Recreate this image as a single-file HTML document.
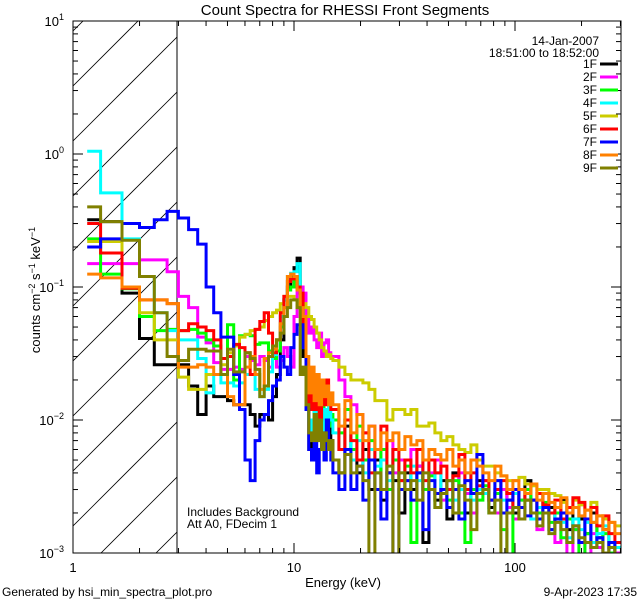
<!DOCTYPE html>
<html><head><meta charset="utf-8"><style>
html,body{margin:0;padding:0;background:#fff;overflow:hidden;}
svg{display:block;}
svg text{font-family:"Liberation Sans",sans-serif;fill:#000;}
</style></head><body>
<svg id="chart" width="640" height="600" viewBox="0 0 640 600" xmlns="http://www.w3.org/2000/svg">
<defs><clipPath id="plotclip"><rect x="73" y="21" width="548" height="532"/></clipPath>
<clipPath id="hatchclip"><rect x="73" y="21" width="104" height="532"/></clipPath></defs>
<rect width="640" height="600" fill="#fff"/>
<text x="345" y="15" font-size="15" text-anchor="middle">Count Spectra for RHESSI Front Segments</text>
<g id="hatch" clip-path="url(#hatchclip)"></g>
<line x1="177" y1="21" x2="177" y2="553" stroke="#000" stroke-width="1"/>
<g id="series" clip-path="url(#plotclip)"></g>
<rect x="73" y="21" width="548" height="532" fill="none" stroke="#000" stroke-width="1"/>
<g id="axes"></g>
<text x="343" y="587" font-size="13" text-anchor="middle">Energy (keV)</text>
<text transform="translate(40,290) rotate(-90)" font-size="13" text-anchor="middle">counts cm<tspan baseline-shift="super" font-size="9">−2</tspan> s<tspan baseline-shift="super" font-size="9">−1</tspan> keV<tspan baseline-shift="super" font-size="9">−1</tspan></text>
<text x="187" y="516" font-size="12">Includes Background</text>
<text x="187" y="528" font-size="12">Att A0, FDecim 1</text>
<text x="599" y="45" font-size="12" text-anchor="end">14-Jan-2007</text>
<text x="599" y="57" font-size="12" text-anchor="end">18:51:00 to 18:52:00</text>
<g id="legend"></g>
<text x="2" y="596" font-size="12">Generated by hsi_min_spectra_plot.pro</text>
<text x="637" y="596" font-size="12" text-anchor="end">9-Apr-2023 17:35</text>
</svg>
<script>
const seriesNames = ["1F","2F","3F","4F","5F","6F","7F","8F","9F"];
const seriesColors = ["#000000","#ff00ff","#00ff00","#00ffff","#cccc00","#ff0000","#0000ff","#ff8000","#808000"];
const s1F = [0.32,0.31,0.09,0.041,0.026,0.026,0.026,0.018,0.011,0.018,0.015,0.015,0.014,0.013,0.013,0.013,0.011,0.009,0.011,0.011,0.010,0.015,0.022,0.04,0.08,0.1,0.12,0.14,0.165,0.09,
 0.03,0.012,0.006,0.008,0.012,0.009,0.014,0.008,0.011,0.006,0.01,0.007,
 0.005,0.004,0.009,0.006,0.004,0.006,0.003,0.005,0.0025,0.004,0.0035,0.002,0.004,0.003,0.0045,0.0012,0.003,0.0025,0.0035,0.0018,0.004,0.003,0.002,0.0028,0.0035,0.003,0.0022,0.0028,0.003,0.0025,0.002,0.003,0.0035,0.0025,0.002,0.0028,0.0022,0.0018,0.0025,0.0015,0.0022,0.0018,0.0014,0.002,0.0013,0.0015,0.0011,0.0009];
const s2F = [0.15,0.15,0.15,0.16,0.16,0.13,0.085,0.07,0.042,0.038,0.027,0.024,0.024,0.025,0.024,0.03,0.028,0.026,0.03,0.028,0.025,0.03,0.025,0.028,0.035,0.03,0.025,0.06,0.1,0.1,
 0.09,0.06,0.045,0.05,0.04,0.035,0.045,0.03,0.038,0.04,0.032,0.03,
 0.03,0.02,0.015,0.013,0.011,0.008,0.009,0.006,0.005,0.007,0.004,0.005,0.0035,0.006,0.0045,0.003,0.004,0.005,0.0025,0.0035,0.003,0.004,0.0028,0.002,0.003,0.0035,0.0025,0.002,0.003,0.0022,0.0018,0.0025,0.003,0.002,0.0015,0.0022,0.002,0.0012,0.0018,0.0009,0.0015,0.0012,0.0009,0.0014,0.0011,0.0008,0.0012,0.001];
const s3F = [0.23,0.125,0.097,0.06,0.047,0.048,0.047,0.048,0.045,0.04,0.036,0.029,0.052,0.02,0.043,0.044,0.043,0.037,0.038,0.038,0.033,0.029,0.033,0.05,0.07,0.095,0.1,0.12,0.11,0.07,
 0.035,0.02,0.012,0.016,0.01,0.014,0.009,0.015,0.01,0.012,0.009,0.011,
 0.01,0.008,0.012,0.006,0.009,0.005,0.007,0.004,0.006,0.003,0.005,0.0035,0.0045,0.0012,0.004,0.003,0.0038,0.0022,0.003,0.0025,0.0035,0.002,0.0012,0.003,0.0025,0.0032,0.002,0.0028,0.0015,0.0008,0.0022,0.0025,0.003,0.0018,0.002,0.0024,0.0017,0.002,0.0013,0.0018,0.0015,0.0008,0.0014,0.0017,0.0012,0.0014,0.001,0.0012];
const s4F = [1.05,0.51,0.23,0.12,0.064,0.047,0.04,0.04,0.029,0.016,0.022,0.019,0.019,0.018,0.019,0.022,0.022,0.017,0.015,0.017,0.023,0.031,0.04,0.06,0.08,0.12,0.127,0.13,0.15,0.07,
 0.045,0.018,0.01,0.008,0.012,0.009,0.016,0.008,0.012,0.009,0.013,0.01,
 0.008,0.006,0.01,0.005,0.007,0.004,0.006,0.0045,0.005,0.0035,0.006,0.004,0.003,0.0045,0.0035,0.005,0.003,0.004,0.0028,0.0035,0.0025,0.003,0.004,0.0025,0.003,0.0028,0.002,0.0035,0.0025,0.002,0.0028,0.0022,0.0025,0.0018,0.0022,0.002,0.0015,0.0022,0.0017,0.0013,0.0018,0.0015,0.0017,0.0012,0.0014,0.0016,0.0012,0.0011];
const s5F = [0.22,0.22,0.1,0.064,0.04,0.04,0.021,0.017,0.017,0.022,0.022,0.026,0.032,0.036,0.042,0.044,0.047,0.048,0.05,0.056,0.06,0.064,0.067,0.075,0.085,0.085,0.085,0.08,0.07,0.075,
 0.075,0.07,0.06,0.057,0.05,0.045,0.04,0.035,0.033,0.03,0.031,0.029,
 0.028,0.025,0.022,0.02,0.02,0.019,0.017,0.014,0.014,0.01,0.012,0.012,0.011,0.012,0.009,0.009,0.0095,0.008,0.007,0.0075,0.0065,0.006,0.0057,0.0065,0.005,0.0045,0.0045,0.004,0.0038,0.0035,0.0035,0.0037,0.0033,0.0032,0.003,0.003,0.0028,0.0027,0.0024,0.0022,0.0025,0.0023,0.0021,0.0024,0.0019,0.0018,0.0017,0.0016];
const s6F = [0.30,0.18,0.098,0.08,0.08,0.075,0.047,0.053,0.05,0.047,0.04,0.029,0.03,0.037,0.035,0.032,0.022,0.048,0.055,0.064,0.045,0.032,0.04,0.064,0.085,0.11,0.115,0.12,0.1,0.09,
 0.05,0.025,0.012,0.016,0.012,0.018,0.01,0.017,0.013,0.02,0.014,0.012,
 0.012,0.006,0.01,0.007,0.005,0.008,0.004,0.006,0.009,0.004,0.006,0.0035,0.005,0.004,0.006,0.0035,0.005,0.004,0.0045,0.003,0.0038,0.0055,0.003,0.004,0.0032,0.0035,0.0025,0.003,0.0035,0.0028,0.0022,0.003,0.0025,0.002,0.0028,0.0023,0.002,0.0025,0.0018,0.0022,0.0026,0.0024,0.0018,0.0022,0.0016,0.0019,0.0014,0.0012];
const s7F = [0.20,0.23,0.30,0.28,0.32,0.37,0.33,0.27,0.21,0.10,0.064,0.042,0.042,0.022,0.012,0.005,0.0035,0.007,0.01,0.011,0.014,0.018,0.02,0.03,0.025,0.022,0.035,0.044,0.052,0.052,
 0.035,0.012,0.006,0.005,0.008,0.004,0.006,0.008,0.005,0.01,0.007,0.005,
 0.004,0.003,0.006,0.003,0.0045,0.0025,0.005,0.003,0.0018,0.004,0.0009,0.003,0.0035,0.0025,0.004,0.0015,0.0035,0.0028,0.003,0.0022,0.003,0.0018,0.0035,0.0028,0.0055,0.003,0.0025,0.0035,0.002,0.0025,0.003,0.0022,0.0019,0.0025,0.0018,0.0022,0.0015,0.0018,0.002,0.0012,0.0016,0.0012,0.0018,0.0011,0.0013,0.0009,0.0012,0.0009];
const s8F = [0.125,0.117,0.1,0.08,0.08,0.075,0.025,0.025,0.026,0.025,0.022,0.022,0.015,0.013,0.013,0.025,0.03,0.022,0.017,0.029,0.032,0.034,0.04,0.053,0.07,0.12,0.125,0.12,0.095,0.07,
 0.06,0.03,0.016,0.025,0.014,0.022,0.013,0.02,0.015,0.018,0.013,0.016,
 0.013,0.009,0.014,0.008,0.011,0.007,0.009,0.006,0.008,0.007,0.008,0.006,0.0075,0.0065,0.007,0.005,0.006,0.0055,0.005,0.006,0.0045,0.005,0.004,0.005,0.0045,0.004,0.0035,0.0045,0.0038,0.003,0.0035,0.003,0.0028,0.0033,0.0025,0.0028,0.0024,0.0022,0.0026,0.002,0.0022,0.0019,0.0021,0.0017,0.0019,0.0015,0.0017,0.0014];
const s9F = [0.40,0.31,0.225,0.12,0.064,0.03,0.028,0.034,0.034,0.033,0.033,0.022,0.034,0.023,0.023,0.032,0.029,0.024,0.015,0.018,0.03,0.036,0.04,0.045,0.06,0.07,0.08,0.08,0.07,0.022,
 0.025,0.013,0.008,0.007,0.011,0.007,0.01,0.006,0.008,0.007,0.006,0.007,
 0.005,0.004,0.0055,0.004,0.0045,0.0035,0.0008,0.004,0.003,0.0045,0.0009,0.004,0.003,0.0035,0.0025,0.004,0.003,0.0022,0.0028,0.0035,0.002,0.0032,0.0025,0.0015,0.0028,0.003,0.002,0.0025,0.0009,0.002,0.0022,0.0018,0.0025,0.002,0.0016,0.002,0.0014,0.0017,0.0015,0.0012,0.0016,0.0013,0.0012,0.0011,0.0012,0.001,0.0011,0.0009];
const allSeries = [s1F,s2F,s3F,s4F,s5F,s6F,s7F,s8F,s9F];
const xTickLabels = ["1","10","100"];
const xTickValues = [1,10,100];
const yTickExps = ["1","0","−1","−2","−3"];
const yTickValues = [10,1,0.1,0.01,0.001];

// bin edges (energy, keV): 1/3 keV bins to 15 keV, then log-spaced
const edges = [1.16];
for (let i=1;i<=42;i++) edges.push(1+i/3);
for (let k=1;k<=48;k++) edges.push(15*Math.pow(10,k*6/221));

const X0=73, DEC_X=221, Y0=21, DEC_Y=133;
function xs(e){return X0+Math.log10(e)*DEC_X;}
function ys(v){return Y0+(1-Math.log10(v))*DEC_Y;}
const NS="http://www.w3.org/2000/svg";
function mk(t,a){const e=document.createElementNS(NS,t);for(const k in a)e.setAttribute(k,a[k]);return e;}

const hatch=document.getElementById('hatch');
for(let c=86-55*2;c<=553+110;c+=55){
  const l=mk('line',{x1:73,y1:c,x2:177,y2:c-104,stroke:'#000','stroke-width':0.8});
  
  
  hatch.appendChild(l);
}

const sg=document.getElementById('series');
allSeries.forEach((vals,si)=>{
  let d='';
  for(let i=0;i<vals.length;i++){
    const x0=xs(edges[i]),x1=xs(edges[i+1]);
    const y=Math.min(ys(Math.max(vals[i],1e-4)),560);
    d+=(i===0?'M':'L')+x0.toFixed(1)+','+y.toFixed(1)+'L'+x1.toFixed(1)+','+y.toFixed(1);
  }
  const p=mk('path',{d:d,fill:'none',stroke:seriesColors[si],'stroke-width':3,'stroke-linejoin':'miter'});
  
  
  sg.appendChild(p);
});

const ax=document.getElementById('axes');
function tick(x1,y1,x2,y2){const l=mk('line',{x1,y1,x2,y2,stroke:'#000','stroke-width':1});
  
  
  ax.appendChild(l);}
for(let dec=1;dec<=100;dec*=10){
  for(let m=1;m<=9;m++){
    const e=dec*m; if(e>300) break;
    const x=xs(e), len=(m===1)?10:5;
    tick(x,553,x,553-len); tick(x,21,x,21+len);
  }
}
xTickValues.forEach((v,i)=>{
  const t=mk('text',{x:xs(v),y:572,'font-size':13,'text-anchor':'middle'});
  t.textContent=xTickLabels[i];
  
  
  ax.appendChild(t);
});
for(let p=-3;p<1;p++){
  for(let m=1;m<=9;m++){
    const v=m*Math.pow(10,p); const y=ys(v), len=(m===1)?10:5;
    tick(73,y,73+len,y); tick(621,y,621-len,y);
  }
}
yTickValues.forEach((v,i)=>{
  const y=ys(v);
  const t=mk('text',{x:64,y:y+5,'font-size':13,'text-anchor':'end'});
  t.innerHTML='10<tspan dy="-6" font-size="9">'+yTickExps[i]+'</tspan>';
  
  
  ax.appendChild(t);
});

const lg=document.getElementById('legend');
seriesNames.forEach((n,i)=>{
  const y=64+i*13;
  const g=mk('g',{});
  
  
  const t=mk('text',{x:597,y:y+4,'font-size':12,'text-anchor':'end'});t.textContent=n;
  const l=mk('line',{x1:600,y1:y,x2:618,y2:y,stroke:seriesColors[i],'stroke-width':3});
  g.appendChild(t);g.appendChild(l);lg.appendChild(g);
});
</script>
</body></html>
